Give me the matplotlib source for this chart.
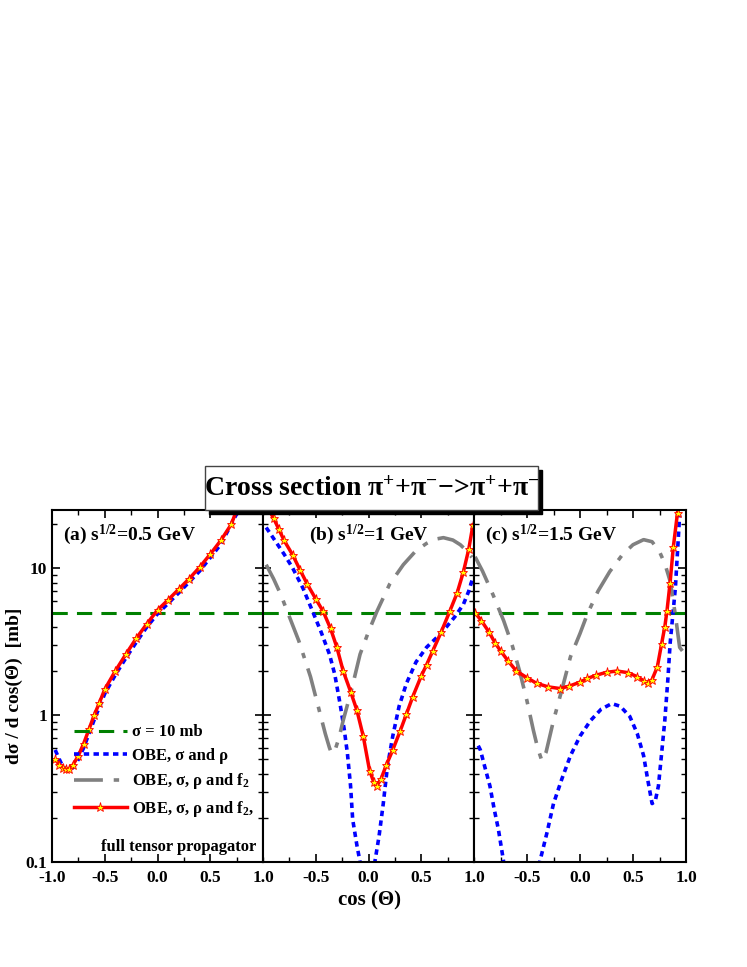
import matplotlib
matplotlib.use("Agg")
import matplotlib.pyplot as plt
from matplotlib.patches import Rectangle
from matplotlib.lines import Line2D
from matplotlib.ticker import MultipleLocator, LogLocator, NullFormatter, FixedLocator

plt.rcParams['font.family'] = 'Liberation Serif'
plt.rcParams['font.weight'] = 'bold'
plt.rcParams['mathtext.fontset'] = 'custom'
plt.rcParams['mathtext.rm'] = 'Liberation Serif:bold'
plt.rcParams['mathtext.it'] = 'Liberation Serif:bold'
plt.rcParams['mathtext.bf'] = 'Liberation Serif:bold'

sigma_const = 5.0

# Panel (a) sqrt(s)=0.5 GeV
a_red_x = [-0.97, -0.93, -0.9, -0.87, -0.84, -0.8, -0.75, -0.7, -0.65, -0.6, -0.55, -0.5, -0.4, -0.3, -0.2, -0.1, 0.0, 0.1, 0.2, 0.3, 0.4, 0.5, 0.6, 0.7, 0.75, 0.8]
a_red_y = [0.5, 0.46, 0.44, 0.43, 0.43, 0.46, 0.53, 0.64, 0.8, 1.0, 1.22, 1.5, 2.0, 2.6, 3.35, 4.2, 5.2, 6.1, 7.2, 8.5, 10.2, 12.5, 15.5, 20.0, 25.0, 30.0]
a_blue_x = [-0.97, -0.93, -0.9, -0.87, -0.84, -0.8, -0.75, -0.7, -0.6, -0.5, -0.4, -0.3, -0.2, -0.1, 0.0, 0.2, 0.4, 0.6, 0.75, 0.8]
a_blue_y = [0.58, 0.5, 0.45, 0.43, 0.42, 0.44, 0.5, 0.6, 0.93, 1.4, 1.88, 2.45, 3.15, 4.0, 4.9, 6.8, 9.6, 14.6, 23.5, 28.0]

# Panel (b) sqrt(s)=1 GeV
b_red_x = [-1.0, -0.95, -0.9, -0.85, -0.8, -0.72, -0.65, -0.58, -0.5, -0.43, -0.36, -0.3, -0.24, -0.17, -0.11, -0.05, 0.01, 0.05, 0.08, 0.12, 0.17, 0.23, 0.3, 0.36, 0.42, 0.5, 0.55, 0.61, 0.69, 0.77, 0.84, 0.9, 0.95, 0.99]
b_red_y = [28.0, 25.5, 22.0, 18.5, 15.5, 12.4, 9.8, 7.8, 6.2, 5.1, 3.9, 2.9, 2.0, 1.45, 1.08, 0.72, 0.42, 0.35, 0.33, 0.37, 0.46, 0.58, 0.78, 1.02, 1.34, 1.85, 2.2, 2.75, 3.7, 5.1, 6.8, 9.5, 13.5, 19.8]
b_blue_x = [-0.97, -0.9, -0.8, -0.72, -0.62, -0.53, -0.45, -0.37, -0.32, -0.27, -0.23, -0.2, -0.17, -0.15, -0.11, -0.08, -0.02, 0.06, 0.1, 0.14, 0.18, 0.23, 0.29, 0.36, 0.45, 0.55, 0.65, 0.74, 0.82, 0.9, 0.95, 0.99]
b_blue_y = [19.0, 16.0, 12.5, 10.1, 7.3, 5.1, 3.7, 2.6, 1.9, 1.2, 0.8, 0.55, 0.33, 0.195, 0.13, 0.1, 0.04, 0.1, 0.15, 0.25, 0.45, 0.72, 1.15, 1.65, 2.3, 2.9, 3.4, 4.0, 4.7, 5.7, 7.0, 8.7]
b_gray_x = [-0.97, -0.9, -0.83, -0.77, -0.66, -0.55, -0.47, -0.41, -0.37, -0.35, -0.32, -0.28, -0.24, -0.16, -0.08, 0.0, 0.08, 0.2, 0.33, 0.45, 0.55, 0.63, 0.71, 0.8, 0.87, 0.93, 0.98]
b_gray_y = [10.6, 8.5, 6.6, 5.1, 3.2, 1.83, 1.1, 0.75, 0.6, 0.55, 0.57, 0.7, 0.92, 1.5, 2.6, 3.7, 5.1, 7.8, 10.6, 13.2, 14.8, 15.8, 16.2, 15.6, 14.5, 13.2, 11.9]

# Panel (c) sqrt(s)=1.5 GeV
c_red_x = [-0.99, -0.93, -0.86, -0.8, -0.75, -0.68, -0.6, -0.5, -0.41, -0.3, -0.19, -0.1, 0.0, 0.07, 0.15, 0.25, 0.35, 0.45, 0.54, 0.6, 0.64, 0.68, 0.73, 0.77, 0.8, 0.82, 0.85, 0.88, 0.92]
c_red_y = [5.0, 4.4, 3.7, 3.1, 2.75, 2.35, 2.0, 1.8, 1.65, 1.56, 1.52, 1.58, 1.68, 1.78, 1.87, 1.96, 2.0, 1.95, 1.83, 1.72, 1.65, 1.75, 2.14, 3.07, 4.0, 5.1, 8.0, 13.9, 24.0]
c_blue_x = [-0.96, -0.94, -0.9, -0.85, -0.81, -0.77, -0.72, -0.55, -0.38, -0.31, -0.25, -0.17, -0.09, 0.0, 0.1, 0.2, 0.3, 0.38, 0.47, 0.54, 0.6, 0.64, 0.68, 0.71, 0.74, 0.77, 0.8, 0.83, 0.85, 0.9, 0.94]
c_blue_y = [0.62, 0.58, 0.45, 0.33, 0.23, 0.167, 0.1, 0.03, 0.1, 0.16, 0.25, 0.37, 0.53, 0.72, 0.92, 1.1, 1.2, 1.15, 0.98, 0.75, 0.53, 0.36, 0.25, 0.26, 0.33, 0.55, 0.92, 1.8, 3.07, 7.4, 23.0]
c_gray_x = [-0.99, -0.92, -0.82, -0.72, -0.64, -0.57, -0.5, -0.44, -0.4, -0.36, -0.32, -0.25, -0.17, -0.09, 0.0, 0.07, 0.17, 0.28, 0.4, 0.5, 0.6, 0.68, 0.75, 0.8, 0.85, 0.9, 0.94, 0.99]
c_gray_y = [12.0, 9.6, 6.6, 4.4, 3.0, 2.0, 1.25, 0.79, 0.6, 0.49, 0.56, 0.92, 1.5, 2.5, 3.6, 4.9, 7.0, 9.5, 12.4, 14.5, 15.7, 15.2, 13.0, 10.8, 8.2, 4.8, 2.9, 2.6]

panel_titles = ["(a) s$^{1/2}$=0.5 GeV", "(b) s$^{1/2}$=1 GeV", "(c) s$^{1/2}$=1.5 GeV"]
panel_title_x = [0.05, 0.22, 0.05]
xtick_vals_a = [-1.0, -0.5, 0.0, 0.5, 1.0]
xtick_vals_bc = [-0.5, 0.0, 0.5, 1.0]
ytick_vals = [0.1, 1, 10]
ytick_labels = ["0.1", "1", "10"]

W, H = 747, 967
fig = plt.figure(figsize=(W/100, H/100), dpi=100)

lefts = [52, 263, 474]
widths = [211, 211, 212]
top, bot = 510, 862
axes = []
for l, w in zip(lefts, widths):
    ax = fig.add_axes([l/W, 1-bot/H, w/W, (bot-top)/H])
    axes.append(ax)

red_kw = dict(color='red', lw=2.5, marker='*', ms=6.5, mfc='yellow', mec='red', mew=0.6)
blue_kw = dict(color='blue', lw=2.6, dashes=(1.5, 1.2))
gray_kw = dict(color='gray', lw=2.6, dashes=(8, 3, 1.5, 3))
green_kw = dict(color='green', lw=2.2, dashes=(5, 3))

data = [
    (a_red_x, a_red_y, a_blue_x, a_blue_y, None, None),
    (b_red_x, b_red_y, b_blue_x, b_blue_y, b_gray_x, b_gray_y),
    (c_red_x, c_red_y, c_blue_x, c_blue_y, c_gray_x, c_gray_y),
]

for i, (ax, d) in enumerate(zip(axes, data)):
    rx, ry, bx, by, gx, gy = d
    ax.set_yscale('log')
    ax.set_xlim(-1, 1)
    ax.set_ylim(0.1, 25)
    l1, = ax.plot([-1, 1], [sigma_const, sigma_const], **green_kw)
    l2, = ax.plot(bx, by, **blue_kw)
    if gx is not None:
        ax.plot(gx, gy, **gray_kw)
    l4, = ax.plot(rx, ry, **red_kw)
    ax.text(panel_title_x[i], 0.965, panel_titles[i], transform=ax.transAxes, ha='left', va='top',
            fontsize=14, fontweight='bold')
    ax.xaxis.set_minor_locator(MultipleLocator(0.25))
    if i == 0:
        ax.set_xticks(xtick_vals_a)
        ax.set_xticklabels(["%.1f" % v for v in xtick_vals_a])
        ax.yaxis.set_major_locator(FixedLocator(ytick_vals))
        ax.set_yticklabels(ytick_labels)
    else:
        ax.set_xticks(xtick_vals_bc)
        ax.set_xticklabels(["%.1f" % v for v in xtick_vals_bc])
        ax.yaxis.set_major_locator(FixedLocator(ytick_vals))
        ax.set_yticklabels([])
    ax.yaxis.set_minor_locator(LogLocator(base=10, subs=range(2, 10)))
    ax.yaxis.set_minor_formatter(NullFormatter())
    ax.tick_params(which='both', direction='in', top=True, right=True, labelsize=12.5)
    ax.tick_params(axis='x', pad=6)
    ax.tick_params(which='major', length=6, width=1.2)
    ax.tick_params(which='minor', length=3.5, width=1)
    for s in ax.spines.values():
        s.set_linewidth(1.5)
    if i == 0:
        g_handle = Line2D([], [], **gray_kw)
        ax.legend([l1, l2, g_handle, l4],
                  ["σ = 10 mb", "OBE, σ and ρ", "OBE, σ, ρ and f$_2$", "OBE, σ, ρ and f$_2$,"],
                  loc='lower right', bbox_to_anchor=(1.03, 0.08), frameon=False,
                  handlelength=3.2, handletextpad=0.3, labelspacing=0.45,
                  prop={'family': 'Liberation Serif', 'weight': 'bold', 'size': 12})
        ax.text(0.97, 0.02, "full tensor propagator", transform=ax.transAxes,
                ha='right', va='bottom', fontsize=12, fontweight='bold')

axes[0].set_ylabel("dσ / d cos(Θ)  [mb]", fontsize=14, fontweight='bold', labelpad=2)
fig.text((52+686)/2/W, 1-900/H, "cos (Θ)", ha='center', va='center', fontsize=15, fontweight='bold')

# title box with shadow
bx0, by0, bw, bh = 205, 466, 333, 44
fig.patches.append(Rectangle(((bx0+4)/W, 1-(by0+bh+4)/H), bw/W, bh/H, transform=fig.transFigure,
                             facecolor='black', edgecolor='black', zorder=5))
fig.patches.append(Rectangle((bx0/W, 1-(by0+bh)/H), bw/W, bh/H, transform=fig.transFigure,
                             facecolor='white', edgecolor='#444444', lw=1, zorder=6))
fig.text((bx0+bw/2)/W, 1-(by0+bh/2+1)/H, "Cross section π$^{+}$+π$^{-}$−>π$^{+}$+π$^{-}$",
         ha='center', va='center', fontsize=20, fontweight='bold', zorder=7)

fig.savefig("out.png", dpi=100)
